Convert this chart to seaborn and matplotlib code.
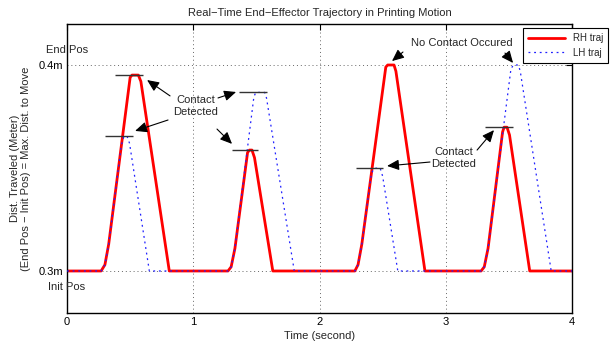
import numpy as np
import pandas as pd
import matplotlib.pyplot as plt
import seaborn as sns

# right hand trajectory (time in s, position in m)
rh_time = [0.00, 0.27, 0.30, 0.33, 0.50, 0.515, 0.565, 0.585, 0.81,
           1.275, 1.30, 1.33, 1.43, 1.445, 1.465, 1.485, 1.63,
           2.28, 2.305, 2.335, 2.525, 2.54, 2.59, 2.605, 2.835,
           3.28, 3.305, 3.335, 3.45, 3.462, 3.485, 3.505, 3.665, 4.00]
rh_pos = [0.300, 0.300, 0.303, 0.313, 0.394, 0.3951, 0.3951, 0.392, 0.300,
          0.300, 0.302, 0.311, 0.3575, 0.3587, 0.3587, 0.355, 0.300,
          0.300, 0.303, 0.313, 0.399, 0.400, 0.400, 0.397, 0.300,
          0.300, 0.302, 0.311, 0.3675, 0.3698, 0.3698, 0.366, 0.300, 0.300]

# left hand trajectory
lh_time = [0.00, 0.27, 0.30, 0.33, 0.43, 0.45, 0.475, 0.495, 0.652,
           1.275, 1.30, 1.33, 1.48, 1.495, 1.565, 1.58, 1.80,
           2.28, 2.305, 2.335, 2.41, 2.43, 2.48, 2.50, 2.62,
           3.28, 3.305, 3.335, 3.516, 3.535, 3.575, 3.59, 3.835, 4.00]
lh_pos = [0.300, 0.300, 0.303, 0.313, 0.361, 0.3652, 0.3655, 0.362, 0.300,
          0.300, 0.302, 0.311, 0.3845, 0.3867, 0.3867, 0.384, 0.300,
          0.300, 0.303, 0.313, 0.347, 0.3498, 0.350, 0.346, 0.300,
          0.300, 0.302, 0.311, 0.398, 0.400, 0.400, 0.397, 0.300, 0.300]

# contact markers (short horizontal bars)
contact_start = [0.380, 0.301, 1.362, 1.307, 2.289, 3.311]
contact_end = [0.602, 0.523, 1.584, 1.513, 2.503, 3.533]
contact_pos = [0.3951, 0.3655, 0.3867, 0.3587, 0.350, 0.370]

# annotation arrows: (tail) -> (tip)
arrow_tail = [(0.816, 0.3850), (0.800, 0.3733), (1.196, 0.3840), (1.188, 0.3689),
              (2.661, 0.4063), (3.469, 0.4058), (2.875, 0.3529), (3.248, 0.3587)]
arrow_tip = [(0.634, 0.3927), (0.539, 0.3680), (1.339, 0.3869), (1.307, 0.3617),
             (2.574, 0.4019), (3.533, 0.4010), (2.535, 0.3510), (3.382, 0.3684)]

notes = ["Contact\nDetected", "No Contact Occured", "Contact\nDetected"]
note_xy = [(1.022, 0.3801), (3.129, 0.4107), (3.065, 0.3549)]

rh_df = pd.DataFrame({"time": rh_time, "pos": rh_pos})
lh_df = pd.DataFrame({"time": lh_time, "pos": lh_pos})

sns.set_style("white")
plt.rcParams['font.family'] = ['Liberation Sans', 'DejaVu Sans']
plt.rcParams['font.size'] = 8

fig = plt.figure(figsize=(6.11, 3.5), dpi=100)
ax = fig.add_axes([0.1097, 0.1057, 0.8265, 0.8257])

sns.lineplot(data=rh_df, x="time", y="pos", color="red", lw=2, ax=ax,
             label="RH traj", estimator=None, sort=False, zorder=2)
sns.lineplot(data=lh_df, x="time", y="pos", color="#2020ff", lw=0.9, ax=ax,
             label="LH traj", estimator=None, sort=False, zorder=3,
             linestyle=(0, (1.5, 3)))

ax.hlines(contact_pos, contact_start, contact_end, color="#333333", lw=1, zorder=4)

for tail, tip in zip(arrow_tail, arrow_tip):
    ax.annotate("", xy=tip, xytext=tail,
                arrowprops=dict(arrowstyle="-|>,head_length=0.9,head_width=0.4",
                                color="black", lw=0.8, shrinkA=0, shrinkB=0))
for txt, xy in zip(notes, note_xy):
    ax.text(xy[0], xy[1], txt, ha="center", va="center", fontsize=8)

ax.text(0, 0.4073, "End Pos", ha="center", va="center", fontsize=8)
ax.text(0, 0.2922, "Init Pos", ha="center", va="center", fontsize=8)

ax.set_xlim(0, 4)
ax.set_ylim(0.2796, 0.4199)
ax.set_xticks([0, 1, 2, 3, 4])
ax.set_yticks([0.3, 0.4])
ax.set_yticklabels(["0.3m", "0.4m"])
ax.tick_params(direction="in", top=True, right=True, length=4, width=0.8,
               labelsize=8, pad=3, colors="black")
ax.grid(True, linestyle=(0, (1, 3)), color="#666666", lw=0.7)
for s in ax.spines.values():
    s.set_color("black")
    s.set_linewidth(1)

ax.set_title("Real\u2212Time End\u2212Effector Trajectory in Printing Motion", fontsize=8, pad=6)
ax.set_xlabel("Time (second)", fontsize=8, labelpad=3)
ax.set_ylabel("Dist. Traveled (Meter)\n(End Pos \u2212 Init Pos) = Max. Dist. to Move",
              fontsize=8, labelpad=5)

leg = ax.legend(loc="upper right", bbox_to_anchor=(1.071, 0.986), fontsize=7,
                frameon=True, fancybox=False, edgecolor="black", framealpha=1,
                handlelength=3.8, borderpad=0.5, labelspacing=0.5, borderaxespad=0)
leg.get_frame().set_linewidth(0.8)

fig.savefig("out.png", dpi=100)
